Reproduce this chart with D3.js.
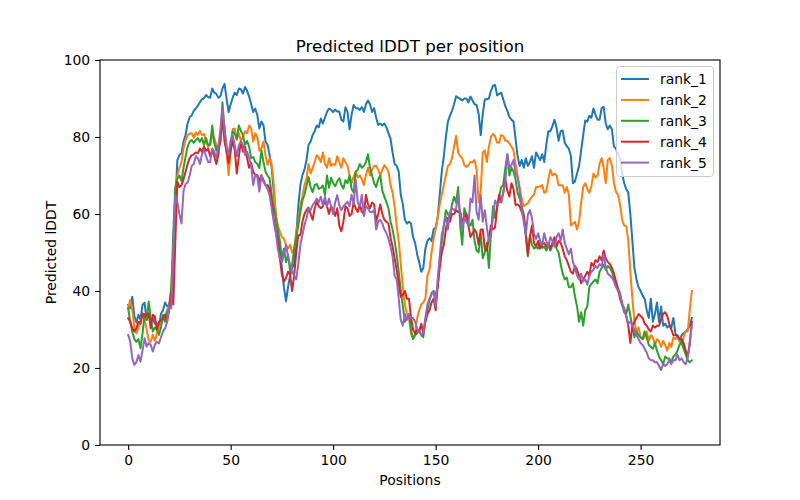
<!DOCTYPE html>
<html>
<head>
<meta charset="utf-8">
<script src="https://cdnjs.cloudflare.com/ajax/libs/d3/7.8.5/d3.min.js"></script>
<style>
body { margin: 0; background: #fff; }
svg text { font-family: "DejaVu Sans", sans-serif; fill: #000; }
.line { fill: none; stroke-width: 2px; stroke-linejoin: round; stroke-linecap: square; }
</style>
</head>
<body>
<svg id="lineChart"></svg>
<script>
// pLDDT per residue, one array per model rank
var rank_1 = [36.4, 35.5, 38.5, 33.5, 31.8, 33.8, 32.6, 36.4, 37, 32.5,
 33.8, 32.3, 33, 31.5, 31.5, 30.5, 34.1, 35, 37, 36,
 36.4, 39, 47, 63, 74, 75.3, 75.8, 78.8, 80.5, 83.5,
 85.2, 85.6, 86.8, 87.4, 88.2, 89, 89.8, 90.1, 90.9, 90.4,
 90.2, 92.6, 91.5, 91.2, 90.2, 90.6, 92.6, 93.8, 90, 86.5,
 88.5, 90.2, 91.5, 90.9, 92.6, 92.4, 91.3, 93, 92, 90.5,
 88.5, 86.5, 87.4, 85.7, 82.2, 84, 83.1, 78.8, 78, 75.3,
 72, 66, 60, 55, 50, 46, 41, 37.3, 41, 44,
 46, 47, 54.5, 62, 67.5, 70.1, 71.5, 74, 78, 78.8,
 80.5, 81.5, 83, 82.5, 84.8, 83.5, 85, 86.5, 87.4, 87,
 86.5, 87.1, 86.6, 86.6, 84.5, 84, 87.7, 86.6, 82, 85.8,
 88.3, 87.5, 87.5, 87, 87.8, 86.5, 88.5, 89.5, 88.5, 86.5,
 87.5, 85, 83.1, 83.5, 83, 83.5, 82.5, 81, 79.5, 76,
 73, 72.5, 71, 65, 62.5, 58.5, 57.5, 58, 57.5, 54,
 52.5, 49.5, 47.5, 45, 46, 51, 53, 53.7, 53, 56,
 56.5, 59, 65, 71, 75, 80, 84, 85.5, 86.8, 88.5,
 90.6, 90.2, 89.9, 89.5, 90, 90, 89, 90.5, 89.5, 88.5,
 88.3, 86, 80.5, 86, 89.8, 89.8, 90, 92, 93.3, 93.5,
 90.8, 91.2, 91.5, 89.8, 88, 86.8, 85.2, 84.5, 84, 79.5,
 75, 72.5, 74, 72, 74.5, 72.5, 73.5, 75, 72, 76,
 75, 74, 75.5, 73.5, 78, 81.5, 81.5, 82.8, 84.5, 82.5,
 79, 81.5, 81.7, 78.5, 77.6, 77, 75, 68, 68.5, 70.5,
 72.5, 76.5, 80.5, 84.3, 84, 85.5, 85, 87.4, 85.8, 84.5,
 84.5, 87.5, 87.8, 83.5, 82, 83, 82, 77.5, 77, 75.5,
 74.5, 70.5, 68, 66.5, 65.5, 60, 53, 46, 43, 41,
 40, 38.8, 38, 35, 33, 38, 32, 34, 37, 32,
 36, 31, 31.5, 30.5, 31, 30.5, 33, 29, 28, 27,
 28.5, 29, 29.5, 30, 31, 33];

var rank_2 = [35.5, 37.7, 35, 30.3, 29, 30.5, 32.1, 34, 32.5, 30,
 27.2, 26.8, 28.6, 27, 29, 30.5, 31.5, 32.5, 33.8, 35,
 36.4, 41, 50, 66, 70, 72, 73.5, 77, 79.2, 80.5,
 80.9, 81, 79.8, 81.2, 80.5, 81.6, 80.5, 80.8, 78.8, 77.5,
 78, 80.5, 79.8, 77.9, 77, 78.8, 84, 83, 76, 70.1,
 76.5, 82, 82.2, 79.2, 81, 79, 80, 81.5, 81, 83,
 82.3, 78.8, 81, 80, 76.5, 77, 78.8, 75.3, 72.7, 74.5,
 73, 68, 60, 57, 55.5, 54, 53.5, 52, 51, 52,
 50, 51, 55.5, 58, 62.3, 64.5, 67.5, 69.2, 73, 70.5,
 71.9, 73.5, 75.3, 74.6, 73.5, 76, 73, 72, 74.5, 72.5,
 73, 72.7, 75, 73.5, 72, 74.5, 73.5, 72.5, 70, 68,
 69.7, 71, 69.5, 70, 69, 67.5, 70.1, 72, 70, 71.5,
 72.5, 72.5, 71.5, 70, 71.5, 72.7, 72, 71, 67.5, 65.5,
 62, 57, 53, 47, 41, 36.5, 34, 33, 29, 27.5,
 29, 33, 35, 36.5, 37, 38, 44, 45.5, 50, 53.5,
 56, 59, 62.5, 65, 67.5, 70, 72.5, 73, 74.5, 77.5,
 80.3, 76, 75, 74.5, 72.7, 72.2, 72.7, 73.5, 73.5, 74,
 71.5, 63, 66, 76, 76.5, 73.5, 77.5, 80, 80.8, 80.2,
 78.5, 78.5, 80.5, 80.3, 79, 79, 78.3, 77.5, 76.5, 73,
 70, 67, 64, 62, 62.5, 62.8, 63.8, 64.5, 65, 67,
 67, 67.2, 67.5, 65.5, 65.8, 69, 71.5, 70, 70.5, 70,
 67.5, 67.5, 67.5, 65.5, 67, 65, 57, 57.5, 58, 56,
 58, 63, 67, 68, 66.5, 65.5, 67.2, 70.5, 69.5, 70,
 73, 74.5, 72, 68, 74, 74.5, 72.7, 68, 65.7, 65,
 62.3, 58.5, 57, 56.8, 53, 45, 38, 32, 29.5, 30.5,
 28, 27.5, 28, 29.5, 27, 28.5, 28, 26, 27.5, 27,
 25.5, 27, 26, 24.5, 26.5, 25.5, 28, 27.5, 28, 27,
 26, 28, 29.5, 29.5, 35, 40];

var rank_3 = [35.5, 32, 29.5, 27.5, 26.8, 27.5, 25.1, 29, 34, 32.5,
 37.3, 33, 29.5, 30.5, 30, 28.6, 30.5, 33.8, 32, 34.5,
 35.5, 40, 55, 67, 69.2, 70, 68.5, 72, 74.8, 77.5,
 78.8, 79.2, 78.5, 79.2, 79.7, 78.8, 79.7, 77.9, 79.7, 77.9,
 78, 83, 78.5, 76.5, 77.9, 78.5, 89, 82, 77.5, 75,
 78.8, 81.5, 80.8, 79.5, 83, 81.5, 80.5, 78, 79, 77.5,
 74.5, 74.8, 73.5, 73, 71.9, 76.5, 73.5, 71, 70, 69.2,
 65, 61.5, 59, 56, 53, 48.5, 51, 47.5, 49.4, 45,
 46.8, 51, 54, 57, 60.5, 63.5, 65, 67.2, 69.6, 67,
 65.7, 67.5, 67.8, 66.5, 66.8, 67.4, 64.9, 70, 66.8, 69.4,
 68, 67.2, 68.5, 69.3, 67.5, 66.6, 68.8, 68, 70, 66.5,
 65.6, 71, 71.5, 73, 72, 72.5, 73.5, 75.5, 72, 70,
 68, 67, 69, 70, 66, 64.5, 63, 61.5, 58, 56,
 53, 49.5, 45, 40, 36, 32, 33, 34, 30, 27.5,
 28.5, 29, 30, 28.5, 28, 32.5, 35, 37.5, 39.5, 40,
 39, 41, 48, 52.5, 57, 61, 60, 59, 62.5, 64.5,
 63, 67, 57, 52, 61.5, 60, 57.5, 57, 58.5, 53,
 50.5, 50, 55, 48.5, 50, 52.5, 46, 55, 62, 59,
 62, 64.5, 67, 67.5, 71.9, 75.5, 70, 72, 71, 69,
 65.5, 64, 62, 60, 54.5, 49, 54.5, 52, 51, 51.5,
 51, 52.5, 51.2, 51.5, 50.5, 52, 50.5, 52, 53, 51,
 50, 47, 44.5, 43, 43.5, 41, 41, 42, 38.5, 36,
 32, 34.5, 31, 35, 36, 41, 41.8, 42.5, 43, 42,
 45, 46, 46.8, 45.5, 46.5, 46, 45, 43.4, 41.6, 40.5,
 39.5, 36.5, 34.5, 34, 36.5, 33.5, 30.5, 28, 29.5, 28.5,
 28, 27.5, 29.5, 28, 26, 25.5, 25, 26.5, 24.5, 23,
 22, 21, 23, 22.5, 22.5, 21.5, 23, 23.5, 24.5, 26,
 27, 25, 23.5, 22, 21.5, 22];

var rank_4 = [32.9, 32, 30.3, 29.5, 30.3, 32, 31.5, 34.2, 33.4, 33.8,
 34.2, 30.3, 33.8, 33.4, 30.1, 32, 32.5, 33, 33.8, 32.1,
 35, 39.8, 36.5, 53, 68.4, 67, 67.5, 69, 71, 73,
 74.5, 75.3, 75.5, 76, 75.8, 77, 76.2, 77.5, 76.4, 77,
 75, 76.5, 75, 73, 75.3, 80, 85, 78.8, 76.2, 73.2,
 76.5, 79, 76.5, 70.5, 75, 78.8, 76.2, 77.5, 74.5, 72,
 73.3, 71, 70.1, 70.1, 68.4, 70.1, 68.8, 67.5, 67.5, 66.6,
 63, 58.9, 55.5, 52.8, 48.5, 44.2, 42.5, 43.4, 45, 44.2,
 40, 44.2, 50, 54.5, 54.5, 58, 60, 61, 61.7, 60,
 58.5, 61.5, 63.2, 62, 61.5, 62, 63.5, 62, 60, 62,
 61, 59.5, 61.5, 57, 55.5, 58, 62, 61.5, 59.5, 60,
 63, 61.5, 60.5, 62.5, 60.5, 60, 65, 62.5, 61.5, 63,
 62.5, 58, 60, 62.5, 60, 58.5, 58, 57.5, 53.8, 51.5,
 48.5, 45.5, 42, 38.5, 39, 40, 38, 38, 33, 30,
 29, 30, 29.5, 31.5, 29, 32, 34, 35, 37, 38,
 35, 41, 46, 50, 52, 56, 59, 58, 60, 60,
 61, 60.5, 60.5, 58, 59, 60, 57, 54, 55, 56,
 55, 52, 56, 56, 51, 50.5, 54, 57, 56, 56.5,
 61.5, 65, 63, 65.5, 69, 66, 64.5, 68, 66.5, 62.3,
 62.5, 62, 60.5, 59.5, 55, 49.5, 54, 57, 52.5, 51.5,
 53, 51, 52, 52.5, 51.5, 52.5, 51, 52.5, 54, 51.5,
 53, 52.5, 51, 49, 48, 46.5, 45, 44.5, 46.5, 45.5,
 44, 42, 43, 44, 45, 44, 47.3, 46.5, 48, 47.5,
 49, 48, 50.5, 48.5, 47.5, 47, 46, 44.5, 42.5, 40.5,
 38, 36.4, 35.5, 33.5, 31, 26.5, 31, 32, 33, 34,
 33.5, 33, 31.5, 31, 30, 29.5, 31, 30.5, 31, 31,
 32.5, 34, 34.5, 33.5, 31.5, 30, 28.5, 28.5, 28.5, 27.5,
 27.5, 26.5, 24.5, 23, 26, 32];

var rank_5 = [28.6, 26.8, 22.5, 20.8, 21.5, 23.4, 21.6, 24.5, 27.7, 25.5,
 26.5, 26, 24.3, 26, 26.8, 26.4, 28, 29.5, 30.3, 32,
 36, 35.5, 50, 64.9, 63, 60, 57.5, 66, 67.8, 68.2,
 70, 72.5, 73, 75, 74.5, 73, 75.5, 76.5, 75, 73.5,
 73.5, 77, 76.2, 74.5, 77.5, 82, 88, 81.5, 77.5, 75.3,
 79, 80.5, 77.8, 75, 77.8, 79, 77.9, 75.3, 76.2, 74.5,
 72.7, 67.5, 70.1, 69.7, 65.8, 70, 68.4, 67.5, 66.5, 64.9,
 61.5, 58, 55.4, 51, 48.5, 47.5, 49.4, 52, 49, 46.8,
 45, 44, 43, 47, 52, 54.5, 57.1, 58.9, 61.5, 61,
 62.3, 63, 64, 63, 64.5, 62.3, 64.5, 62, 64, 62,
 60, 63, 64.9, 62.3, 61, 62, 62.6, 63.2, 62, 65,
 62.5, 69, 63, 62, 65, 59.5, 62, 61.5, 60.5, 60.5,
 61, 56, 58, 58.5, 57.5, 56, 55, 53.5, 51.5, 49,
 44, 43, 38, 32.5, 31, 34, 32.5, 34, 33, 33,
 32, 30, 29.5, 28.6, 29, 33, 36.5, 38, 39, 40,
 36, 43, 49, 54.5, 57, 59.5, 56, 60.5, 61.5, 61,
 61.5, 65, 60, 56, 59, 58, 57, 64, 63, 70,
 60.5, 58.5, 64.9, 58, 61, 56.5, 53, 54.5, 59, 63.5,
 62.5, 63, 63.5, 65.5, 68, 75.5, 72, 72.7, 74, 70.5,
 69.5, 66, 61, 58, 54.5, 59.8, 61, 59, 55, 53.5,
 55, 53, 52, 55, 53, 51.5, 54, 53, 51.5, 54,
 55, 53, 56, 52.5, 51, 49.5, 51, 47.5, 46, 44,
 43, 44.5, 42.5, 43, 41.6, 44, 45, 45.5, 46.5, 46,
 47, 46.5, 49.5, 46, 44.5, 44, 43.5, 42.5, 41, 40,
 39, 37, 35, 33.5, 31.5, 32, 31, 30, 28.5, 27.5,
 26.5, 26, 25, 24, 22.5, 22, 22, 21.5, 21.5, 20.5,
 19.5, 21, 20.5, 21, 22, 21, 22, 22, 23.5, 22,
 22.5, 21.5, 21, 22.5, 27, 31];

var seriesNames = ['rank_1', 'rank_2', 'rank_3', 'rank_4', 'rank_5'];
var seriesValues = [rank_1, rank_2, rank_3, rank_4, rank_5];
var seriesColors = ['#1f77b4', '#ff7f0e', '#2ca02c', '#d62728', '#9467bd'];
var xTicks = [0, 50, 100, 150, 200, 250];
var yTicks = [0, 20, 40, 60, 80, 100];

function drawChart(){
    var width = 800, height = 500;
    var left = 100, right = 720, top = 60, bottom = 445;
    var tickLen = 4.9;

    var svg = d3.select("#lineChart")
        .attr("width", width)
        .attr("height", height);

    var n = rank_1.length;
    var pad = (n - 1) * 0.05;
    var xScale = d3.scaleLinear()
        .domain([-pad, n - 1 + pad])
        .range([left, right]);

    var yScale = d3.scaleLinear()
        .domain([0, 100])
        .range([bottom, top]);

    // x axis
    var xAxis = svg.append("g")
        .attr("transform", "translate(0," + bottom + ")")
        .call(d3.axisBottom(xScale).tickValues(xTicks).tickSizeOuter(0)
            .tickSize(tickLen).tickPadding(4.9));
    // y axis
    var yAxis = svg.append("g")
        .attr("transform", "translate(" + left + ",0)")
        .call(d3.axisLeft(yScale).tickValues(yTicks).tickSizeOuter(0)
            .tickSize(tickLen).tickPadding(4.9));

    [xAxis, yAxis].forEach(function(g){
        g.select(".domain").remove();
        g.selectAll("line").attr("stroke", "#000").attr("stroke-width", 1.1);
        g.selectAll("text").style("font-size", "13.9px").attr("fill", "#000");
    });

    var line = d3.line()
        .x(function(d, i){ return xScale(i); })
        .y(function(d){ return yScale(d); });

    svg.selectAll(".line")
        .data(seriesValues)
        .enter().append("path")
        .attr("class", "line")
        .attr("stroke", function(d, i){ return seriesColors[i]; })
        .attr("d", line);

    // axes frame
    svg.append("rect")
        .attr("x", left)
        .attr("y", top)
        .attr("width", right - left)
        .attr("height", bottom - top)
        .attr("fill", "none")
        .attr("stroke", "#000")
        .attr("stroke-width", 1.1);

    // titles
    svg.append("text")
        .attr("x", (left + right) / 2)
        .attr("y", 52)
        .attr("text-anchor", "middle")
        .style("font-size", "16.7px")
        .text("Predicted lDDT per position");

    svg.append("text")
        .attr("x", (left + right) / 2)
        .attr("y", 485)
        .attr("text-anchor", "middle")
        .style("font-size", "13.9px")
        .text("Positions");

    svg.append("text")
        .attr("transform", "translate(56," + ((top + bottom) / 2) + ") rotate(-90)")
        .attr("text-anchor", "middle")
        .style("font-size", "13.9px")
        .text("Predicted lDDT");

    // legend
    var legend = svg.append("g");
    legend.append("rect")
        .attr("x", 616.5)
        .attr("y", 66.5)
        .attr("width", 97)
        .attr("height", 110)
        .attr("rx", 3)
        .attr("fill", "#fff")
        .attr("fill-opacity", 0.8)
        .attr("stroke", "#cccccc")
        .attr("stroke-width", 1);

    var rows = legend.selectAll(".row")
        .data(seriesNames)
        .enter().append("g")
        .attr("class", "row")
        .attr("transform", function(d, i){ return "translate(0," + (79 + i * 20.9) + ")"; });

    rows.append("line")
        .attr("x1", 621)
        .attr("x2", 649)
        .attr("stroke", function(d, i){ return seriesColors[i]; })
        .attr("stroke-width", 2);

    rows.append("text")
        .attr("x", 660)
        .attr("y", 5)
        .style("font-size", "13.9px")
        .text(function(d){ return d; });
}

drawChart();
</script>
</body>
</html>
